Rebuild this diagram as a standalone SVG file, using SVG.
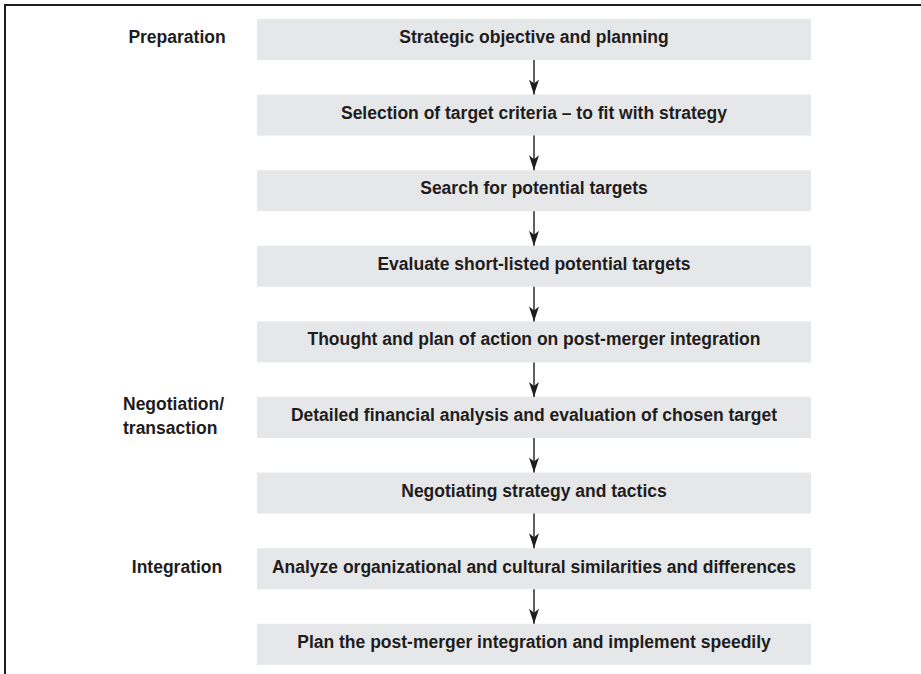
<svg xmlns="http://www.w3.org/2000/svg" width="921" height="674" viewBox="0 0 921 674">
<style>
.box{fill:#e6e7e8}
.t{font-family:"Liberation Sans",Arial,sans-serif;font-weight:bold;font-size:17.5px;fill:#1e1c1d;text-anchor:middle}
.lab{font-family:"Liberation Sans",Arial,sans-serif;font-weight:bold;font-size:17.5px;fill:#1e1c1d}
.c{stroke:#1e1c1d;stroke-width:1.4;fill:none;marker-end:url(#ah)}
</style>
<defs>
<marker id="ah" markerWidth="16" markerHeight="12" viewBox="0 0 16 12" refX="15" refY="6" orient="auto" markerUnits="userSpaceOnUse">
<path d="M0,1 L15,6 L0,11 L4,6 Z" fill="#1e1c1d"/>
</marker>
</defs>
<rect width="921" height="674" fill="#fff"/>
<g id="frame" stroke="#1e1c1d" stroke-width="2" fill="none">
<path d="M5,674 L5,5 L921,5"/>
</g>
<g id="labels">
<text class="lab" x="177" y="43" text-anchor="middle">Preparation</text>
<text class="lab" x="123" y="410">Negotiation/</text>
<text class="lab" x="123" y="434">transaction</text>
<text class="lab" x="177" y="573" text-anchor="middle">Integration</text>
</g>
<g id="n1"><rect class="box" x="257" y="19" width="554" height="41"/><text class="t" x="534" y="43">Strategic objective and planning</text></g>
<g id="n2"><rect class="box" x="257" y="94.6" width="554" height="41"/><text class="t" x="534" y="118.6">Selection of target criteria – to fit with strategy</text></g>
<g id="n3"><rect class="box" x="257" y="170.2" width="554" height="41"/><text class="t" x="534" y="194.2">Search for potential targets</text></g>
<g id="n4"><rect class="box" x="257" y="245.8" width="554" height="41"/><text class="t" x="534" y="269.8">Evaluate short-listed potential targets</text></g>
<g id="n5"><rect class="box" x="257" y="321.4" width="554" height="41"/><text class="t" x="534" y="345.4">Thought and plan of action on post-merger integration</text></g>
<g id="n6"><rect class="box" x="257" y="397" width="554" height="41"/><text class="t" x="534" y="421">Detailed financial analysis and evaluation of chosen target</text></g>
<g id="n7"><rect class="box" x="257" y="472.6" width="554" height="41"/><text class="t" x="534" y="496.6">Negotiating strategy and tactics</text></g>
<g id="n8"><rect class="box" x="257" y="548.2" width="554" height="41"/><text class="t" x="534" y="572.6">Analyze organizational and cultural similarities and differences</text></g>
<g id="n9"><rect class="box" x="257" y="623.8" width="554" height="41"/><text class="t" x="534" y="648">Plan the post-merger integration and implement speedily</text></g>
<g id="connectors">
<line class="c" x1="534" y1="60" x2="534" y2="94.6"/>
<line class="c" x1="534" y1="135.6" x2="534" y2="170.2"/>
<line class="c" x1="534" y1="211.2" x2="534" y2="245.8"/>
<line class="c" x1="534" y1="286.8" x2="534" y2="321.4"/>
<line class="c" x1="534" y1="362.4" x2="534" y2="397"/>
<line class="c" x1="534" y1="438" x2="534" y2="472.6"/>
<line class="c" x1="534" y1="513.6" x2="534" y2="548.2"/>
<line class="c" x1="534" y1="589.2" x2="534" y2="623.8"/>
</g>
</svg>
